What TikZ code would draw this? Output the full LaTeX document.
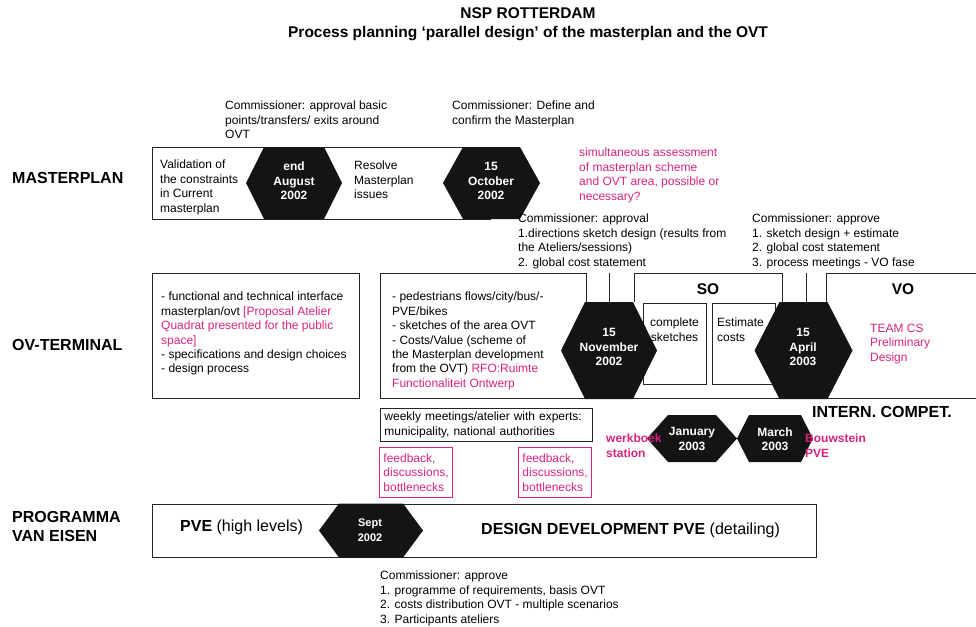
\documentclass[tikz,border=0pt]{standalone}
\usepackage{fontspec}
\setmainfont{Liberation Sans}
\definecolor{nsppink}{RGB}{214,36,124}
\newcommand{\pk}[1]{{\color{nsppink}#1}}
%% hexagon: x, y, half width, half height, inset of the flat top
\newcommand{\hexshape}[5]{%
  \fill[black!92] ({#1-#3},#2) -- ({#1-#3+#5},{#2-#4}) -- ({#1+#3-#5},{#2-#4})
    -- ({#1+#3},#2) -- ({#1+#3-#5},{#2+#4}) -- ({#1-#3+#5},{#2+#4}) -- cycle;}
\begin{document}
\begin{tikzpicture}[x=1pt,y=-1pt,
    every node/.style={inner sep=0pt,font=\fontsize{12}{14.4}\selectfont},
    note/.style={anchor=north west,align=left},
    pinknote/.style={note,text=nsppink},
    rowlabel/.style={align=left,font=\fontsize{16}{19}\selectfont\bfseries},
    hextext/.style={align=center,text=white,font=\fontsize{12}{14.5}\selectfont\bfseries},
    lane/.style={draw=black!85,line width=0.9pt}]
    \useasboundingbox (0,0) rectangle (976,626);
    %% title
    \node[anchor=north,align=center,font=\fontsize{15.5}{19}\selectfont\bfseries] (title) at (528,7)
        {NSP ROTTERDAM\\Process planning `parallel design' of the masterplan and the OVT};
    %% row labels
    \node[rowlabel,anchor=west] (lblmp) at (12,178) {MASTERPLAN};
    \node[rowlabel,anchor=west] (lblovt) at (12,345) {OV-TERMINAL};
    \node[rowlabel,anchor=north west] (lblpve) at (12,511) {PROGRAMMA\\VAN EISEN};

    %% masterplan lane
    \draw[lane] (152,147) rectangle (490,219);
    \hexshape{294}{183}{48}{36}{18}
    \hexshape{491.5}{183}{48.5}{36}{20}
    \node[note] (valid) at (160,160) {Validation of\\the constraints\\in Current\\masterplan};
    \node[note] (resolve) at (354,161) {Resolve\\Masterplan\\issues};
    \node[hextext] (aug) at (294,181) {end\\August\\2002};
    \node[hextext] (oct) at (491,181) {15\\October\\2002};
    \node[note] (comaug) at (225,101) {Commissioner: approval basic\\points/transfers/ exits around\\OVT};
    \node[note] (comoct) at (452,101) {Commissioner: Define and\\confirm the Masterplan};
    \node[pinknote] (simult) at (579,148) {simultaneous assessment\\of masterplan scheme\\and OVT area, possible or\\necessary?};
    \node[note] (comnov) at (518,214) {Commissioner: approval\\1.directions sketch design (results from\\the Ateliers/sessions)\\2. global cost statement};
    \node[note] (comapr) at (752,214) {Commissioner: approve\\1. sketch design + estimate\\2. global cost statement\\3. process meetings - VO fase};

    %% ov-terminal lane
    \draw[lane] (152,273) rectangle (359,398);
    \draw[lane] (586,302) -- (586,273) -- (380,273) -- (380,398) -- (976,398);
    \draw[lane] (634,302) -- (634,273) -- (782,273) -- (782,302);
    \draw[lane] (826,302) -- (826,273) -- (976,273);
    \draw[lane] (609,273) -- (609,302);
    \draw[lane] (806,273) -- (806,302);
    \draw[lane] (643,303) rectangle (706,384);
    \draw[lane] (712,303) rectangle (775,384);
    \node[note] (interface) at (161,292) {- functional and technical interface\\masterplan/ovt \pk{[Proposal Atelier}\\\pk{Quadrat presented for the public}\\\pk{space]}\\- specifications and design choices\\- design process};
    \node[note] (flows) at (392,292) {- pedestrians flows/city/bus/-\\PVE/bikes\\- sketches of the area OVT\\- Costs/Value (scheme of\\the Masterplan development\\from the OVT) \pk{RFO:Ruimte}\\\pk{Functionaliteit Ontwerp}};
    \node[font=\fontsize{15.5}{19}\selectfont\bfseries] (so) at (708,289) {SO};
    \node[font=\fontsize{15.5}{19}\selectfont\bfseries] (vo) at (903,289) {VO};
    \node[anchor=north,align=center] (sketches) at (674.5,318) {complete\\sketches};
    \node[note] (estimate) at (717,318) {Estimate\\costs};
    \node[pinknote] (teamcs) at (870,324) {TEAM CS\\Preliminary\\Design};
    \hexshape{609}{350.5}{48}{48.5}{24}
    \hexshape{803.5}{350.5}{49}{48.5}{25}
    \node[hextext] (nov) at (609,347) {15\\November\\2002};
    \node[hextext] (apr) at (803,347) {15\\April\\2003};

    %% meetings and internal competition
    \node[draw=black!85,line width=0.9pt,anchor=north west,align=left,text width=204pt,
        minimum width=212pt,minimum height=33pt,inner xsep=4pt] (weekly) at (380,408)
        {weekly meetings/atelier with experts:\\municipality, national authorities};
    \node[draw=nsppink,line width=0.9pt,text=nsppink,anchor=north west,align=left,text width=65pt,
        minimum width=73pt,minimum height=50pt,inner xsep=4pt] (feedbackA) at (379,447)
        {feedback,\\discussions,\\bottlenecks};
    \node[draw=nsppink,line width=0.9pt,text=nsppink,anchor=north west,align=left,text width=65pt,
        minimum width=73pt,minimum height=50pt,inner xsep=4pt] (feedbackB) at (518,447)
        {feedback,\\discussions,\\bottlenecks};
    \node[anchor=west,font=\fontsize{16}{19}\selectfont\bfseries] (intern) at (812,412) {INTERN. COMPET.};
    \hexshape{692}{438.5}{45}{23.5}{21}
    \hexshape{775}{438.5}{38}{23.5}{12}
    \node[hextext] (jan) at (692,439) {January\\2003};
    \node[hextext] (mar) at (775,439) {March\\2003};
    \node[pinknote,font=\fontsize{12}{14.4}\selectfont\bfseries] (werkboek) at (606,434) {werkboek\\station};
    \node[pinknote,font=\fontsize{12}{14.4}\selectfont\bfseries] (bouwstein) at (805,434) {Bouwstein\\PVE};

    %% programma van eisen lane
    \draw[lane] (152,504) rectangle (816,557);
    \hexshape{371}{530.5}{52}{27}{20}
    \node[hextext,font=\fontsize{11}{15}\selectfont\bfseries] (sept) at (370,530.5) {Sept\\2002};
    \node[anchor=west,font=\fontsize{16}{19}\selectfont] (pvehigh) at (180,527) {\textbf{PVE} (high levels)};
    \node[anchor=west,font=\fontsize{16}{19}\selectfont] (pvedesign) at (481,530) {\textbf{DESIGN DEVELOPMENT PVE} (detailing)};
    \node[note] (comsept) at (380,571) {Commissioner: approve\\1. programme of requirements, basis OVT\\2. costs distribution OVT - multiple scenarios\\3. Participants ateliers};
\end{tikzpicture}
\end{document}
